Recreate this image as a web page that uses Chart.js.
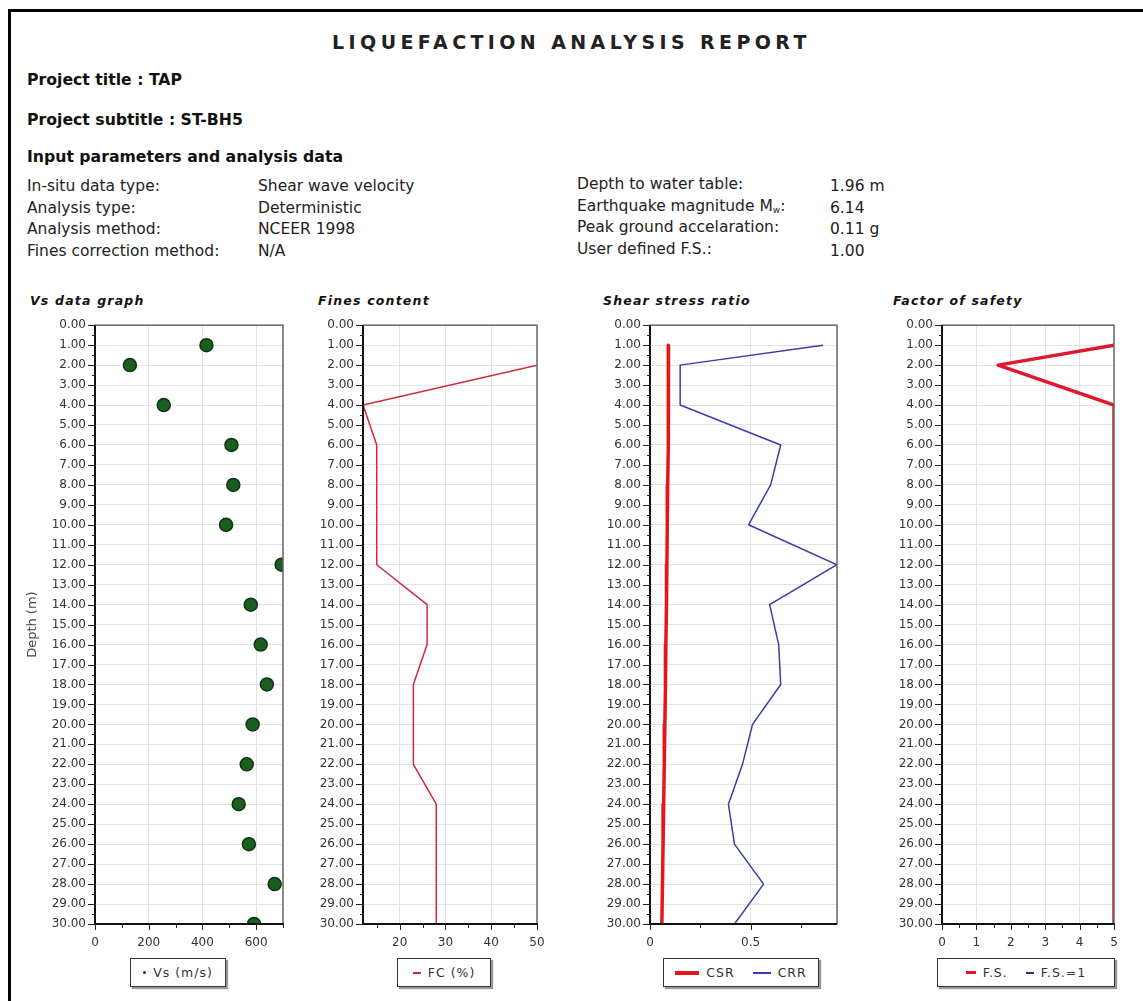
<!DOCTYPE html>
<html>
<head>
<meta charset="utf-8">
<title>Liquefaction analysis report</title>
<script src="https://cdn.jsdelivr.net/npm/chart.js@4.4.0/dist/chart.umd.min.js"></script>
<style>
  body { margin:0; width:1143px; height:1001px; overflow:hidden; position:relative; background:#fff; color:#111;
         font-family:'DejaVu Sans',sans-serif; }
  .frame { position:absolute; left:8px; top:9px; width:1200px; height:1100px; border:3px solid #000; }
  #rep-title { position:absolute; left:0; width:1143px; top:30px; text-align:center; font:bold 19px 'DejaVu Sans',sans-serif;
               letter-spacing:4.4px; line-height:24px; color:#222; }
  .h { position:absolute; left:27px; font-weight:bold; font-size:15.7px; line-height:18px; color:#111; }
  .col { position:absolute; font-size:15.5px; line-height:21.5px; color:#222; white-space:nowrap; }
  .col sub { font-size:9px; vertical-align:-2px; line-height:0; }
  .ptitle { position:absolute; top:293px; font:italic bold 12.5px 'DejaVu Sans',sans-serif; letter-spacing:1.2px; color:#111; }
  .panel { position:absolute; top:309px; }
  .legend { position:absolute; top:958px; height:27px; border:1.5px solid #333; box-shadow:2px 2px 1px #999;
            background:#fff; display:flex; align-items:center; justify-content:center; gap:18px;
            font:12.5px 'DejaVu Sans',sans-serif; color:#333; letter-spacing:1px; }
  .legend .item { display:flex; align-items:center; gap:7px; }
  .legend .dot { width:3px; height:3px; border-radius:50%; }
</style>
</head>
<body>
<div class="frame"></div>
<div id="rep-title">LIQUEFACTION ANALYSIS REPORT</div>
<div class="h" style="top:71px">Project title : TAP</div>
<div class="h" style="top:111px">Project subtitle : ST-BH5</div>
<div class="h" style="top:148px">Input parameters and analysis data</div>
<div class="col" style="left:27px;top:176px">In-situ data type:<br>Analysis type:<br>Analysis method:<br>Fines correction method:</div>
<div class="col" style="left:258px;top:176px">Shear wave velocity<br>Deterministic<br>NCEER 1998<br>N/A</div>
<div class="col" style="left:577px;top:174px">Depth to water table:<br>Earthquake magnitude M<sub>w</sub>:<br>Peak ground accelaration:<br>User defined F.S.:</div>
<div class="col" style="left:830px;top:176px">1.96 m<br>6.14<br>0.11 g<br>1.00</div>

<div class="ptitle" style="left:30px">Vs data graph</div>
<div class="ptitle" style="left:318px">Fines content</div>
<div class="ptitle" style="left:603px">Shear stress ratio</div>
<div class="ptitle" style="left:893px">Factor of safety</div>

<canvas id="cVs" class="panel" style="left:15px" width="292" height="647"></canvas>
<canvas id="cFc" class="panel" style="left:303px" width="258" height="647"></canvas>
<canvas id="cSsr" class="panel" style="left:590px" width="271" height="647"></canvas>
<canvas id="cFs" class="panel" style="left:882px" width="256" height="647"></canvas>

<div id="lVs" class="legend" style="left:130px;width:94px"></div>
<div id="lFc" class="legend" style="left:397px;width:92px"></div>
<div id="lSsr" class="legend" style="left:663px;width:154px"></div>
<div id="lFs" class="legend" style="left:937px;width:176px"></div>

<script>
// ---- data ----
const DEPTHS = [1,2,4,6,8,10,12,14,16,18,20,22,24,26,28,30];
const VS  = [415,130,256,508,515,488,695,580,617,640,587,565,535,573,669,592];
const FC  = [null,50,12,15,15,15,15,26,26,23,23,23,28,28,28,28];
const CSR = [0.092,0.092,0.091,0.090,0.088,0.086,0.084,0.082,0.079,0.077,0.074,0.071,0.068,0.065,0.062,0.059];
const CRR = [0.86,0.15,0.15,0.65,0.60,0.49,0.93,0.595,0.64,0.65,0.51,0.46,0.39,0.42,0.565,0.42];
const FS  = [5,1.63,5,5,5,5,5,5,5,5,5,5,5,5,5,5];

// ---- axis ticks (labelled ones + minor marks) ----
const VS_TICKS  = [0,100,200,300,400,500,600,700];
const VS_LABELS = [0,200,400,600];
const FC_TICKS  = [15,20,25,30,35,40,45,50];
const FC_LABELS = [20,30,40,50];
const SSR_TICKS  = [0,0.25,0.5,0.75];
const SSR_LABELS = [0,0.5];
const FS_TICKS  = [0,0.5,1,1.5,2,2.5,3,3.5,4,4.5,5];
const FS_LABELS = [0,1,2,3,4,5];

const TICK_FONT = { family:'DejaVu Sans', size:12 };
const TICK_COLOR = '#333';
const GRID = '#e3e3e3';
const PAD_TOP = 8, PAD_RIGHT = 24, X_H = 32;

const pts = vals => DEPTHS.map((d,i) => ({ x: vals[i], y: d })).filter(p => p.x !== null);

// border round the plot + short/long tick marks
const frameAndTicks = {
  id: 'frameAndTicks',
  afterDraw(chart) {
    const { ctx, chartArea: a, scales: { x, y } } = chart;
    ctx.save();
    ctx.strokeStyle = '#666'; ctx.lineWidth = 1.5;
    ctx.strokeRect(a.left, a.top, a.right - a.left, a.bottom - a.top);
    ctx.strokeStyle = '#111'; ctx.lineWidth = 2;
    ctx.beginPath(); ctx.moveTo(a.left, a.top); ctx.lineTo(a.left, a.bottom); ctx.lineTo(a.right, a.bottom); ctx.stroke();
    ctx.lineWidth = 1; ctx.strokeStyle = '#222';
    ctx.beginPath();
    x.ticks.forEach(t => {
      const px = Math.round(x.getPixelForValue(t.value)) + .5;
      ctx.moveTo(px, a.bottom - 1); ctx.lineTo(px, a.bottom + (t.label ? 6 : 4));
    });
    y.ticks.forEach(t => {
      const py = Math.round(y.getPixelForValue(t.value)) + .5;
      ctx.moveTo(a.left + 1, py); ctx.lineTo(a.left - (t.label ? 7 : 3), py);
    });
    ctx.stroke();
    ctx.restore();
  }
};

function xAxis(min, max, ticks, labels, fmt) {
  return {
    type:'linear', position:'bottom', min, max,
    afterBuildTicks: s => { s.ticks = ticks.map(v => ({ value: v })); },
    afterFit: s => { s.height = X_H; },
    ticks: { font:TICK_FONT, color:TICK_COLOR, padding:12, maxRotation:0, autoSkip:false,
             callback: v => labels.includes(v) ? fmt(v) : '' },
    grid: { drawTicks:false, color: c => (labels.includes(c.tick.value) && c.tick.value > min && c.tick.value < max) ? GRID : 'rgba(0,0,0,0)' },
    border: { display:false }
  };
}

function yAxis(width, title) {
  return {
    type:'linear', reverse:true, min:0, max:30,
    afterFit: s => { s.width = width; },
    ticks: { stepSize:0.5, autoSkip:false, font:TICK_FONT, color:TICK_COLOR, padding:9,
             callback: v => Number.isInteger(v) ? v.toFixed(2) : '' },
    grid: { drawTicks:false, color: c => (Number.isInteger(c.tick.value) && c.tick.value > 0 && c.tick.value < 30) ? GRID : 'rgba(0,0,0,0)' },
    border: { display:false },
    title: { display: !!title, text: title || '', color:'#444', font:{ family:'DejaVu Sans', size:13 }, padding:{ top:10, bottom:0 } }
  };
}

function panel(id, datasets, x, y) {
  return new Chart(document.getElementById(id), {
    type:'scatter',
    data:{ datasets },
    options:{
      responsive:false, animation:false, events:[],
      layout:{ padding:{ top:PAD_TOP, right:PAD_RIGHT, left:0, bottom:0 } },
      plugins:{ legend:{ display:false }, tooltip:{ enabled:false } },
      scales:{ x, y }
    },
    plugins:[frameAndTicks]
  });
}

function buildLegend(chart, id) {
  document.getElementById(id).innerHTML = chart.data.datasets.map(ds => {
    const mark = ds.showLine
      ? `<span style="display:inline-block;width:${ds.legendLen}px;border-top:${ds.legendWidth}px solid ${ds.borderColor}"></span>`
      : `<span class="dot" style="background:${ds.borderColor}"></span>`;
    return `<span class="item">${mark}<span>${ds.label}</span></span>`;
  }).join('');
}

const line = (label, data, color, width, legendLen, legendWidth) =>
  ({ label, data, showLine:true, borderColor:color, backgroundColor:color, borderWidth:width,
     borderJoinStyle:'round', pointRadius:0, clip:0, legendLen, legendWidth });

const chVs = panel('cVs', [
  { label:'Vs (m/s)', data:pts(VS), showLine:false, pointRadius:6.5, backgroundColor:'#1b5e20',
    borderColor:'#0c3510', borderWidth:1.5, clip:0 }
], xAxis(0, 700, VS_TICKS, VS_LABELS, v => String(v)), yAxis(80, 'Depth (m)'));

const chFc = panel('cFc', [
  line('FC (%)', pts(FC), '#d0283c', 1.5, 8, 2)
], xAxis(12, 50, FC_TICKS, FC_LABELS, v => String(v)), yAxis(60));

const chSsr = panel('cSsr', [
  line('CSR', pts(CSR), '#e8141c', 3.5, 24, 4),
  line('CRR', pts(CRR), '#3b3bab', 1.5, 18, 2)
], xAxis(0, 0.93, SSR_TICKS, SSR_LABELS, v => String(v)), yAxis(60));

const chFs = panel('cFs', [
  line('F.S.', pts(FS), '#e0182c', 3.5, 10, 3),
  line('F.S.=1', [], '#30308a', 1.5, 8, 2)
], xAxis(0, 5, FS_TICKS, FS_LABELS, v => String(v)), yAxis(60));

buildLegend(chVs, 'lVs');
buildLegend(chFc, 'lFc');
buildLegend(chSsr, 'lSsr');
buildLegend(chFs, 'lFs');
</script>
</body>
</html>
